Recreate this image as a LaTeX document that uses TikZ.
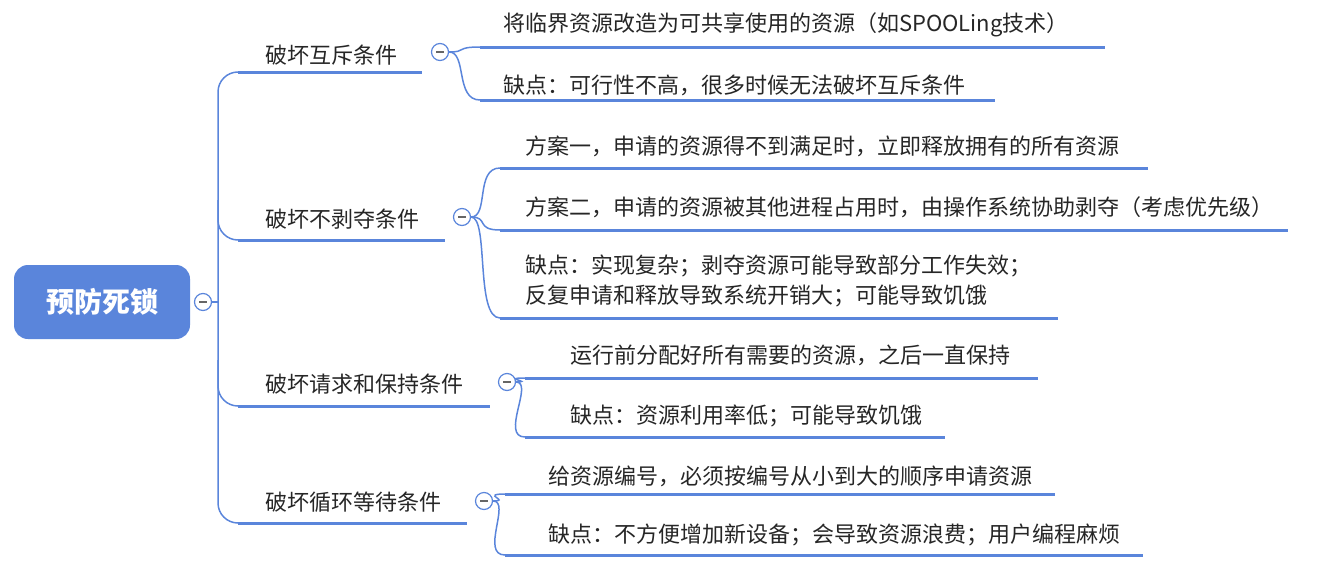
\documentclass[tikz,border=0pt]{standalone}
\usepackage{fontspec}
\usetikzlibrary{calc}
\setmainfont{Noto Sans CJK SC}
\begin{document}
\begin{tikzpicture}[x=1pt,y=-1pt,
  ln/.style={draw=lb,line width=3pt},
  cn/.style={draw=lb,line width=1.5pt},
  ic/.style={circle,draw=lb,line width=1.2pt,fill=white,minimum size=17pt,inner sep=0pt},
  tx/.style={anchor=west,font=\fontsize{22}{30}\selectfont,inner sep=0pt,text=black!85}]
\definecolor{lb}{HTML}{5A85DB}
\useasboundingbox (0,0) rectangle (1332,570);
% root
\node[fill=lb,rounded corners=14pt,minimum width=176pt,minimum height=74pt,text=white,font=\fontsize{28}{30}\selectfont\bfseries] (root) at (102,302) {预防死锁};
\node[ic] (ir) at (203,302) {};
\coordinate (t) at (218,302);
\draw[cn] (ir.east) -- (t);
\coordinate (b1s) at (238,72); \coordinate (b1e) at (422,72);
\coordinate (b2s) at (238,240); \coordinate (b2e) at (445,240);
\coordinate (b3s) at (238,406); \coordinate (b3e) at (490,406);
\coordinate (b4s) at (238,523); \coordinate (b4e) at (467,523);
\draw[cn,rounded corners=20pt] (b1s) -| (218,302) |- (b4s);
\draw[cn,rounded corners=20pt] (218,200) |- (b2s);
\draw[cn,rounded corners=20pt] (218,360) |- (b3s);
\draw[ln] (b1s) -- (b1e); \node[tx] (n1) at (265,55) {破坏互斥条件};
\draw[ln] (b2s) -- (b2e); \node[tx] (n2) at (265,219) {破坏不剥夺条件};
\draw[ln] (b3s) -- (b3e); \node[tx] (n3) at (265,384) {破坏请求和保持条件};
\draw[ln] (b4s) -- (b4e); \node[tx] (n4) at (265,502) {破坏循环等待条件};
\node[ic] (i1) at (440,52) {};
\node[ic] (i2) at (462,217) {};
\node[ic] (i3) at (507,382) {};
\node[ic] (i4) at (484,501) {};
\newcommand{\child}[5]{%
  \coordinate (#5s) at (#3,#2); \coordinate (#5e) at (#4,#2);
  \draw[cn] (#1.east) .. controls ($(#1.east)+(18,0)$) and ($(#5s)+(-25,0)$) .. (#5s);
  \draw[ln] (#5s) -- (#5e);}
\child{i1}{47}{480}{1105}{c11}
\child{i1}{100}{480}{995}{c12}
\child{i2}{168}{500}{1148}{c21}
\child{i2}{230}{500}{1288}{c22}
\child{i2}{318}{500}{1058}{c23}
\child{i3}{378}{525}{1038}{c31}
\child{i3}{437}{525}{945}{c32}
\child{i4}{494}{505}{1055}{c41}
\child{i4}{555}{505}{1143}{c42}
\foreach \k in {r,1,2,3,4}{\draw[black!60,line width=1.3pt] ([xshift=-4pt]i\k.center) -- ([xshift=4pt]i\k.center);}
\node[tx] (t11) at (503,25) {将临界资源改造为可共享使用的资源（如SPOOLing技术）};
\node[tx] (t12) at (503,85) {缺点：可行性不高，很多时候无法破坏互斥条件};
\node[tx] (t21) at (525,146) {方案一，申请的资源得不到满足时，立即释放拥有的所有资源};
\node[tx] (t22) at (525,207) {方案二，申请的资源被其他进程占用时，由操作系统协助剥夺（考虑优先级）};
\node[tx,align=left] (t23) at (525,281) {缺点：实现复杂；剥夺资源可能导致部分工作失效；\\反复申请和释放导致系统开销大；可能导致饥饿};
\node[tx] (t31) at (570,355) {运行前分配好所有需要的资源，之后一直保持};
\node[tx] (t32) at (570,416) {缺点：资源利用率低；可能导致饥饿};
\node[tx] (t41) at (548,476) {给资源编号，必须按编号从小到大的顺序申请资源};
\node[tx] (t42) at (548,535) {缺点：不方便增加新设备；会导致资源浪费；用户编程麻烦};
\end{tikzpicture}
\end{document}
